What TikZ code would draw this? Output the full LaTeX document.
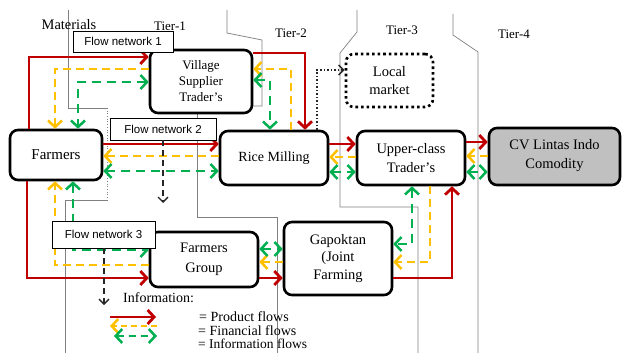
\documentclass[tikz,border=0pt]{standalone}
\usepackage{fontspec}
\setmainfont{Liberation Serif}
\newfontfamily\flowfont{Liberation Sans}
\usetikzlibrary{arrows.meta}
\definecolor{prodred}{HTML}{C00000}
\definecolor{finyellow}{HTML}{FFC000}
\definecolor{infogreen}{HTML}{00B050}
\definecolor{cvgray}{HTML}{C0C0C0}
\tikzset{
  actor/.style = {draw=black, line width=2.6pt, rounded corners=8pt, align=center, fill=white, inner sep=2pt, font=\fontsize{14.5}{19}\selectfont},
  market/.style = {actor, dash pattern=on 2.6pt off 3pt},
  netbox/.style = {draw=black, line width=0.8pt, fill=white, inner sep=0pt, font=\flowfont\fontsize{11.5}{13}\selectfont},
  tier/.style = {font=\fontsize{13}{15}\selectfont},
  legend/.style = {anchor=west, inner sep=0pt, font=\fontsize{14}{16}\selectfont},
  border/.style = {draw=gray, line width=0.7pt},
  prod/.style = {draw=prodred, line width=2.8pt, ->},
  fin/.style = {draw=finyellow, line width=2.5pt, dash pattern=on 8pt off 5pt, ->},
  info/.style = {draw=infogreen, line width=2.5pt, dash pattern=on 9pt off 6pt, <->},
  note/.style = {draw=black!85, line width=1.3pt, dash pattern=on 6pt off 4pt, -{Straight Barb[length=5pt,width=10pt]}},
  >={Straight Barb[length=6.5pt,width=14pt]},
}
\begin{document}
\begin{tikzpicture}[x=1pt, y=-1pt]
\useasboundingbox (0,0) rectangle (622,353);
% tier borders
\draw[border] (68,10) -- (68,108) -- (107,108);
\draw[border, dotted] (107,108) -- (107,200);
\draw[border] (107,200) -- (65,200) -- (65,353);
\draw[border] (197,113) -- (197,217) -- (277,217) -- (277,353);
\draw[border] (227,10) -- (227,33) -- (262,40) -- (262,106) -- (252,106);
\draw[border] (357,10) -- (357,32) -- (340,53) -- (340,207) -- (418,207) -- (418,353);
\draw[border] (453,14) -- (453,35) -- (478,52) -- (478,353);

\node [tier] (mat) at (69,25) {\fontsize{14.5}{16}\selectfont Materials};
\node [tier] (t1) at (170,26) {Tier-1};
\node [tier] (t2) at (291,33) {Tier-2};
\node [tier] (t3) at (402,30) {Tier-3};
\node [tier] (t4) at (514,34) {Tier-4};

% actors
\node [actor, minimum width=92pt, minimum height=50pt, font=\fontsize{15}{19}\selectfont] (farmers) at (56,155) {Farmers};
\node [actor, minimum width=102pt, minimum height=63pt, font=\fontsize{13}{16}\selectfont] (village) at (201,81.5) {Village\\Supplier\\Trader’s};
\node [actor, minimum width=108pt, minimum height=54pt, font=\fontsize{14}{19}\selectfont] (rice) at (274,158) {Rice Milling};
\node [market, minimum width=87pt, minimum height=53pt, font=\fontsize{14.5}{18}\selectfont] (local) at (389.5,80.5) {Local\\market};
\node [actor, minimum width=108pt, minimum height=54pt] (upper) at (411,158) {Upper-class\\Trader’s};
% NOTE: third line of the CV name is cut off in the source, so only two lines are set
\node [actor, fill=cvgray, minimum width=131pt, minimum height=57pt, text depth=6pt] (cv) at (554.5,156.5) {CV Lintas Indo\\Comodity};
\node [actor, minimum width=108pt, minimum height=55pt, font=\fontsize{14.5}{20}\selectfont] (fgroup) at (204,259.5) {Farmers\\Group};
\node [actor, minimum width=108pt, minimum height=73pt, font=\fontsize{14.5}{17.5}\selectfont] (gapok) at (338,258.5) {Gapoktan\\(Joint\\Farming};

% product flows
\draw[prod] (farmers.north -| 29,0) |- (village.west |- 0,57);
\draw[prod] (village.east |- 0,53) -| (rice.north -| 305,0);
\draw[prod] (farmers.east |- 0,144) -- (rice.west |- 0,144);
\draw[prod] (rice.east |- 0,144) -- (upper.west |- 0,144);
\draw[prod] (upper.east |- 0,142) -- (cv.west |- 0,142);
\draw[prod] (farmers.south -| 27,0) |- (fgroup.west |- 0,278);
\draw[prod] (fgroup.east |- 0,278) -- (gapok.west |- 0,278);
\draw[prod] (gapok.east |- 0,278) -| (upper.south -| 452,0);

% financial flows
\draw[fin] (village.west |- 0,69) -| (farmers.north -| 55,0);
\draw[fin] (rice.north -| 291,0) |- (village.east |- 0,69);
\draw[fin] (rice.west |- 0,156) -- (farmers.east |- 0,156);
\draw[fin] (upper.west |- 0,157) -- (rice.east |- 0,157);
\draw[fin] (cv.west |- 0,156) -- (upper.east |- 0,156);
\draw[fin] (upper.south -| 430,0) |- (gapok.east |- 0,262);
\draw[fin] (gapok.west |- 0,262) -- (fgroup.east |- 0,262);
\draw[fin] (fgroup.west |- 0,265) -| (farmers.south -| 55,0);

% information flows
\draw[info] (village.west |- 0,82) -| (farmers.north -| 78,0);
\draw[info] (village.east |- 0,80) -| (rice.north -| 270,0);
\draw[info] (farmers.east |- 0,171) -- (rice.west |- 0,171);
\draw[info] (rice.east |- 0,172) -- (upper.west |- 0,172);
\draw[info] (upper.east |- 0,172) -- (cv.west |- 0,172);
\draw[info] (farmers.south -| 73,0) |- (fgroup.west |- 0,250);
\draw[info] (fgroup.east |- 0,249) -- (gapok.west |- 0,249);
\draw[info] (upper.south -| 412,0) |- (gapok.east |- 0,244);

\draw[draw=black!85, line width=1.5pt, dotted, -{Straight Barb[length=5pt,width=10pt]}] (rice.north -| 317,0) |- (local.west |- 0,70);

% flow networks
\node [netbox, minimum width=100pt, minimum height=21pt] (fn1) at (123,41.5) {Flow network 1};
\node [netbox, minimum width=106pt, minimum height=22pt] (fn2) at (163,129) {Flow network 2};
\node [netbox, minimum width=103pt, minimum height=27pt] (fn3) at (103.5,234.5) {Flow network 3};
\coordinate (drop2) at (163,203);
\coordinate (drop3) at (104,305);
\draw[note] (fn2.south -| 163,0) -- (drop2);
\draw[note] (fn3.south -| 104,0) -- (drop3);

% legend
\node [legend] (infolbl) at (123,298) {Information:};
\coordinate (pa) at (110,317);
\coordinate (pb) at (156,317);
\coordinate (fa) at (157,326);
\coordinate (fb) at (110,326);
\coordinate (ia) at (114,336);
\coordinate (ib) at (157,336);
\draw[prod] (pa) -- (pb);
\draw[fin, dash pattern=on 6pt off 4pt] (fa) -- (fb);
\draw[info, dash pattern=on 7pt off 5pt] (ia) -- (ib);
\node [legend] (l1) at (199,317) {= Product flows};
\node [legend] (l2) at (198,331) {= Financial flows};
\node [legend, font=\fontsize{13.5}{15}\selectfont] (l3) at (198,344) {= Information flows};
\end{tikzpicture}
\end{document}
